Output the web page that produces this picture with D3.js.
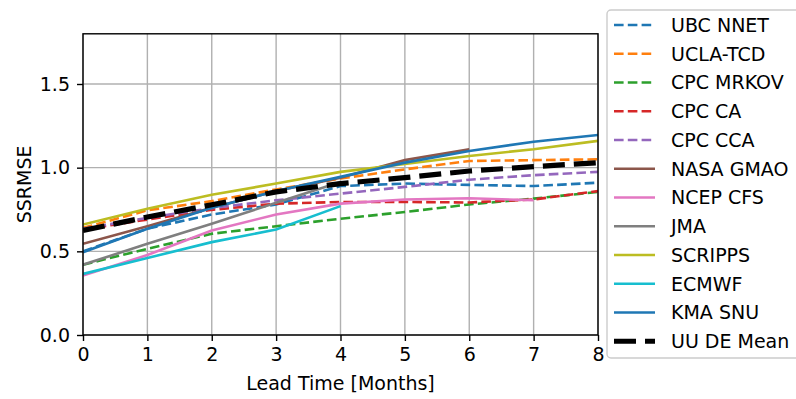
<!DOCTYPE html>
<html><head><meta charset="utf-8">
<script src="https://cdn.jsdelivr.net/npm/d3@7"></script>
<style>body{margin:0;background:#fff}svg{display:block}text{font-family:"DejaVu Sans",sans-serif;fill:#000}</style>
</head><body><svg id="c" width="796" height="399"></svg>
<script>
// ---- data ----
const months = [0, 1, 2, 3, 4, 5, 6, 7, 8];
const xTicks = [0, 1, 2, 3, 4, 5, 6, 7, 8];
const yTicks = [0, 0.5, 1.0, 1.5];
const seriesNames = ["UBC NNET", "UCLA-TCD", "CPC MRKOV", "CPC CA", "CPC CCA", "NASA GMAO",
  "NCEP CFS", "JMA", "SCRIPPS", "ECMWF", "KMA SNU", "UU DE Mean"];
const ubcNnet  = [0.50, 0.635, 0.72, 0.78, 0.89, 0.905, 0.897, 0.89, 0.91];
const uclaTcd  = [0.64, 0.745, 0.80, 0.87, 0.935, 0.99, 1.04, 1.045, 1.05];
const cpcMrkov = [0.42, 0.515, 0.605, 0.65, 0.695, 0.735, 0.78, 0.815, 0.855];
const cpcCa    = [0.63, 0.69, 0.748, 0.785, 0.795, 0.795, 0.792, 0.81, 0.86];
const cpcCca   = [0.635, 0.70, 0.758, 0.805, 0.845, 0.885, 0.928, 0.955, 0.975];
const nasaGmao = [0.545, 0.65, 0.76, 0.86, 0.94, 1.045, 1.11];
const ncepCfs  = [0.355, 0.478, 0.625, 0.72, 0.785, 0.81, 0.817, 0.805];
const jma      = [0.42, 0.545, 0.665, 0.79, 0.915];
const scripps  = [0.66, 0.755, 0.838, 0.905, 0.975, 1.022, 1.07, 1.11, 1.16];
const ecmwf    = [0.365, 0.46, 0.555, 0.63, 0.77];
const kmaSnu   = [0.495, 0.635, 0.76, 0.86, 0.945, 1.03, 1.10, 1.155, 1.195];
const uuDeMean = [0.625, 0.705, 0.778, 0.855, 0.905, 0.94, 0.98, 1.006, 1.03];
const seriesValues = [ubcNnet, uclaTcd, cpcMrkov, cpcCa, cpcCca, nasaGmao, ncepCfs, jma, scripps, ecmwf, kmaSnu, uuDeMean];

// ---- styles ----
const seriesColors = ["#1f77b4", "#ff7f0e", "#2ca02c", "#d62728", "#9467bd", "#8c564b",
  "#e377c2", "#7f7f7f", "#bcbd22", "#17becf", "#1f77b4", "#000000"];
const seriesKinds = ["dash","dash","dash","dash","dash","solid","solid","solid","solid","solid","solid","mean"];

const svg = d3.select("#c");
const L = 83, R = 598, T = 33.8, B = 335;
const fs = 19;
const x = d3.scaleLinear().domain([0, 8]).range([L, R]);
const y = d3.scaleLinear().domain([0, 1.8]).range([B, T]);

// grid
const g = svg.append("g");
g.selectAll(".vg").data(xTicks).enter().append("line")
  .attr("x1", d => x(d)).attr("x2", d => x(d)).attr("y1", T).attr("y2", B)
  .attr("stroke", "#b0b0b0").attr("stroke-width", 1.4);
g.selectAll(".hg").data(yTicks).enter().append("line")
  .attr("x1", L).attr("x2", R).attr("y1", d => y(d)).attr("y2", d => y(d))
  .attr("stroke", "#b0b0b0").attr("stroke-width", 1.4);

// lines
const line = d3.line().x((d, i) => x(months[i])).y(d => y(d));
const clip = svg.append("clipPath").attr("id", "clp").append("rect")
  .attr("x", L).attr("y", T).attr("width", R - L).attr("height", B - T);
function styleLine(sel, kind, color) {
  sel.attr("fill", "none").attr("stroke", color)
    .attr("stroke-width", kind === "mean" ? 5.2 : 2.6)
    .attr("stroke-dasharray", kind === "dash" ? "9.6,4.2" : kind === "mean" ? "22,9" : null);
}
const lg = svg.append("g").attr("clip-path", "url(#clp)");
seriesValues.forEach((vals, i) => {
  lg.append("path").datum(vals).attr("d", line).call(styleLine, seriesKinds[i], seriesColors[i]);
});

// axes
const xAxis = svg.append("g").attr("transform", `translate(0,${B})`)
  .call(d3.axisBottom(x).tickValues(xTicks).tickFormat(d3.format("d")).tickSize(6).tickPadding(7));
const yAxis = svg.append("g").attr("transform", `translate(${L},0)`)
  .call(d3.axisLeft(y).tickValues(yTicks).tickFormat(d3.format(".1f")).tickSize(6).tickPadding(7));
[xAxis, yAxis].forEach(a => {
  a.select(".domain").remove();
  a.selectAll("line").attr("stroke", "#000").attr("stroke-width", 1.4);
  a.selectAll("text").style("font-size", fs + "px").attr("fill", "#000");
});
svg.append("rect").attr("x", L).attr("y", T).attr("width", R - L).attr("height", B - T)
  .attr("fill", "none").attr("stroke", "#000").attr("stroke-width", 1.4);

// labels
svg.append("text").attr("x", (L + R) / 2).attr("y", 390).attr("text-anchor", "middle")
  .style("font-size", fs + "px").text("Lead Time [Months]");
svg.append("text").attr("transform", `translate(31,${(T + B) / 2}) rotate(-90)`)
  .attr("text-anchor", "middle").style("font-size", fs + "px").text("SSRMSE");

// legend
const leg = svg.append("g");
leg.append("rect").attr("x", 607).attr("y", 10).attr("width", 200).attr("height", 348)
  .attr("rx", 4).attr("fill", "#fff").attr("fill-opacity", 0.8)
  .attr("stroke", "#cccccc").attr("stroke-width", 1.4);
seriesNames.forEach((name, i) => {
  const cy = 25 + i * 28.75;
  leg.append("line").attr("x1", 614).attr("x2", 655).attr("y1", cy).attr("y2", cy)
    .call(styleLine, seriesKinds[i], seriesColors[i]);
  leg.append("text").attr("x", 671).attr("y", cy).attr("dy", "0.36em")
    .style("font-size", fs + "px").text(name);
});
</script></body></html>
